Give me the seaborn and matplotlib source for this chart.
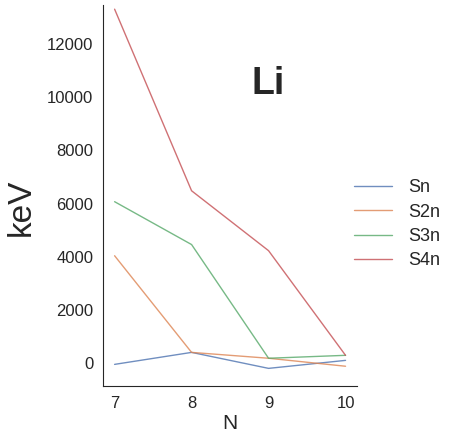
import matplotlib
matplotlib.use("Agg")
import matplotlib.pyplot as plt
import seaborn as sns
import pandas as pd

N = [7, 8, 9, 10]
Sn = [-40, 410, -190, 110]
S2n = [4040, 410, 190, -110]
S3n = [6070, 4460, 190, 300]
S4n = [13300, 6480, 4230, 300]
series_names = ["Sn", "S2n", "S3n", "S4n"]

sns.set_style("white")
plt.rcParams['font.family'] = ['Liberation Sans', 'DejaVu Sans']

rows = []
for name, vals in zip(series_names, [Sn, S2n, S3n, S4n]):
    for n, v in zip(N, vals):
        rows.append({"N": n, "keV": v, "series": name})
df = pd.DataFrame(rows)

fig = plt.figure(figsize=(4.52, 4.32), dpi=100)
ax = fig.add_axes([0.228, 0.106, 0.562, 0.882])
sns.lineplot(data=df, x="N", y="keV", hue="series", palette="deep",
             linewidth=1, alpha=0.8, ax=ax)
sns.despine(ax=ax)
ax.set_xticks(N)
ax.set_ylim(-860, 13450)
ax.set_yticks([0, 2000, 4000, 6000, 8000, 10000, 12000])
ax.tick_params(labelsize=12, colors="0.15")
ax.set_xlabel("N", fontsize=15, labelpad=2.5)
ax.set_ylabel("keV", fontsize=24, labelpad=7, y=0.47)
ax.text(0.65, 0.792, "Li", transform=ax.transAxes, fontsize=27,
        fontweight="bold", ha="center", va="center")
leg = ax.legend(title=None, frameon=False, fontsize=13,
                bbox_to_anchor=(0.925, 0.425), loc="center left",
                labelspacing=0.4, handlelength=2.1, handletextpad=0.9)
for h in leg.get_lines():
    h.set_alpha(0.8)
fig.savefig("out.png", dpi=100)
